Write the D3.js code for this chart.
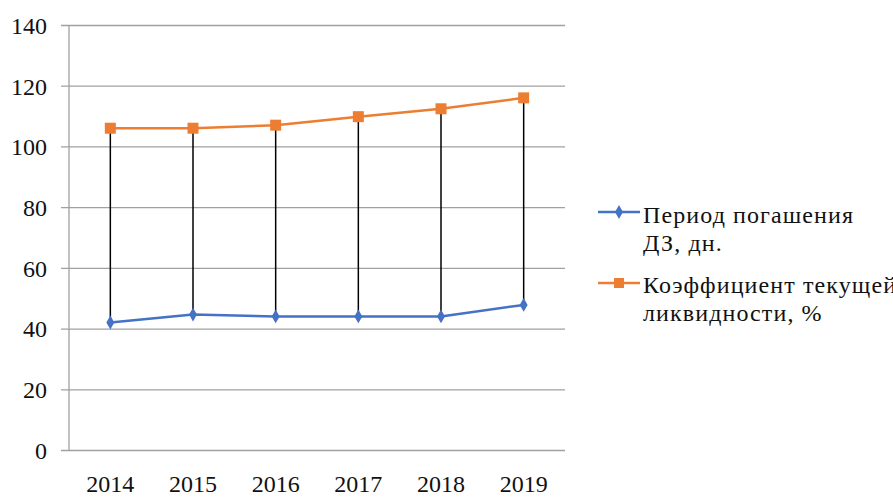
<!DOCTYPE html>
<html>
<head>
<meta charset="utf-8">
<script src="https://cdn.jsdelivr.net/npm/d3@7"></script>
<style>
  html, body { margin: 0; padding: 0; background: #fff; overflow: hidden; }
  svg { display: block; }
</style>
</head>
<body>
<svg id="chart" width="893" height="497"></svg>
<script>
// Years on the horizontal axis
const years = ["2014", "2015", "2016", "2017", "2018", "2019"];
// Receivables turnover period, days
const periodDays = [42, 44.6, 44, 44, 44, 47.8];
// Current liquidity ratio, %
const liquidityPct = [106, 106, 107, 109.8, 112.4, 116];
// Vertical axis ticks
const yTicks = [0, 20, 40, 60, 80, 100, 120, 140];
// Legend labels (each split over two lines)
const seriesNames = [
  ["Период погашения", "ДЗ, дн."],
  ["Коэффициент текущей", "ликвидности, %"]
];

const svg = d3.select("#chart");
const plotLeft = 69, plotRight = 565, plotTop = 25, plotBottom = 450;
const serif = "'Liberation Serif'";
const fontSize = 24;

const x = d3.scaleBand().domain(years).range([plotLeft, plotRight]);
const y = d3.scaleLinear().domain([0, 140]).range([plotBottom, plotTop]);

const blue = "#4472C4", orange = "#ED7D31", grid = "#A0A0A0";

function styleText(sel) {
  sel.style("font-family", serif).style("font-size", fontSize + "px").attr("fill", "#111");
}

// Horizontal gridlines with small tick stubs left of the axis
const yAxis = d3.axisLeft(y).tickValues(yTicks).tickSize(-(plotRight - plotLeft)).tickPadding(22);
const gy = svg.append("g").attr("transform", `translate(${plotLeft},0)`).call(yAxis)
  .attr("font-family", null).attr("font-size", null);
gy.select(".domain").remove();
gy.selectAll(".tick line").attr("stroke", grid).attr("stroke-width", 1.3).attr("x1", -8);
gy.selectAll(".tick text").call(styleText).attr("dy", "0.35em");

// Vertical axis line
svg.append("line")
  .attr("x1", plotLeft).attr("x2", plotLeft).attr("y1", plotTop).attr("y2", plotBottom)
  .attr("stroke", grid).attr("stroke-width", 1.3);

// Category labels
const xAxis = d3.axisBottom(x).tickSize(0);
const gx = svg.append("g").attr("transform", `translate(0,${plotBottom})`).call(xAxis)
  .attr("font-family", null).attr("font-size", null);
gx.select(".domain").remove();
gx.selectAll(".tick text").call(styleText).attr("y", 42).attr("dy", 0);

const cx = d => x(d) + x.bandwidth() / 2;

// Drop lines between the two series
svg.append("g").selectAll("line").data(years).join("line")
  .attr("x1", d => cx(d)).attr("x2", d => cx(d))
  .attr("y1", (d, i) => y(liquidityPct[i]))
  .attr("y2", (d, i) => y(periodDays[i]))
  .attr("stroke", "#000").attr("stroke-width", 1.5);

const line = d3.line().x(d => cx(d[0])).y(d => y(d[1]));

// Period series: blue line with diamond markers
svg.append("path")
  .datum(years.map((d, i) => [d, periodDays[i]]))
  .attr("d", line).attr("fill", "none")
  .attr("stroke", blue).attr("stroke-width", 2.5);
const diamond = d3.symbol().type(d3.symbolDiamond).size(55);
svg.append("g").selectAll("path").data(years).join("path")
  .attr("d", diamond)
  .attr("transform", (d, i) => `translate(${cx(d)},${y(periodDays[i])})`)
  .attr("fill", blue);

// Liquidity series: orange line with square markers
svg.append("path")
  .datum(years.map((d, i) => [d, liquidityPct[i]]))
  .attr("d", line).attr("fill", "none")
  .attr("stroke", orange).attr("stroke-width", 2.5);
svg.append("g").selectAll("rect").data(years).join("rect")
  .attr("x", d => cx(d) - 5.5)
  .attr("y", (d, i) => y(liquidityPct[i]) - 5.5)
  .attr("width", 11).attr("height", 11)
  .attr("fill", orange);

// Legend
const legendItems = [
  { color: blue, shape: "diamond", lines: seriesNames[0], ly: 212, base: 223 },
  { color: orange, shape: "square", lines: seriesNames[1], ly: 283, base: 293 }
];
const lg = svg.append("g");
legendItems.forEach(item => {
  const g = lg.append("g");
  g.append("line")
    .attr("x1", 598).attr("x2", 640).attr("y1", item.ly).attr("y2", item.ly)
    .attr("stroke", item.color).attr("stroke-width", 2.5);
  if (item.shape === "diamond") {
    g.append("path").attr("d", diamond)
      .attr("transform", `translate(619,${item.ly})`).attr("fill", item.color);
  } else {
    g.append("rect").attr("x", 614).attr("y", item.ly - 5)
      .attr("width", 10).attr("height", 10).attr("fill", item.color);
  }
  const t = g.append("text")
    .attr("x", 643).attr("y", item.base)
    .call(styleText)
    .style("letter-spacing", "1.1px");
  item.lines.forEach((s, k) => {
    t.append("tspan").attr("x", 643)
      .attr("dy", k === 0 ? 0 : 28).text(s);
  });
});
</script>
</body>
</html>
